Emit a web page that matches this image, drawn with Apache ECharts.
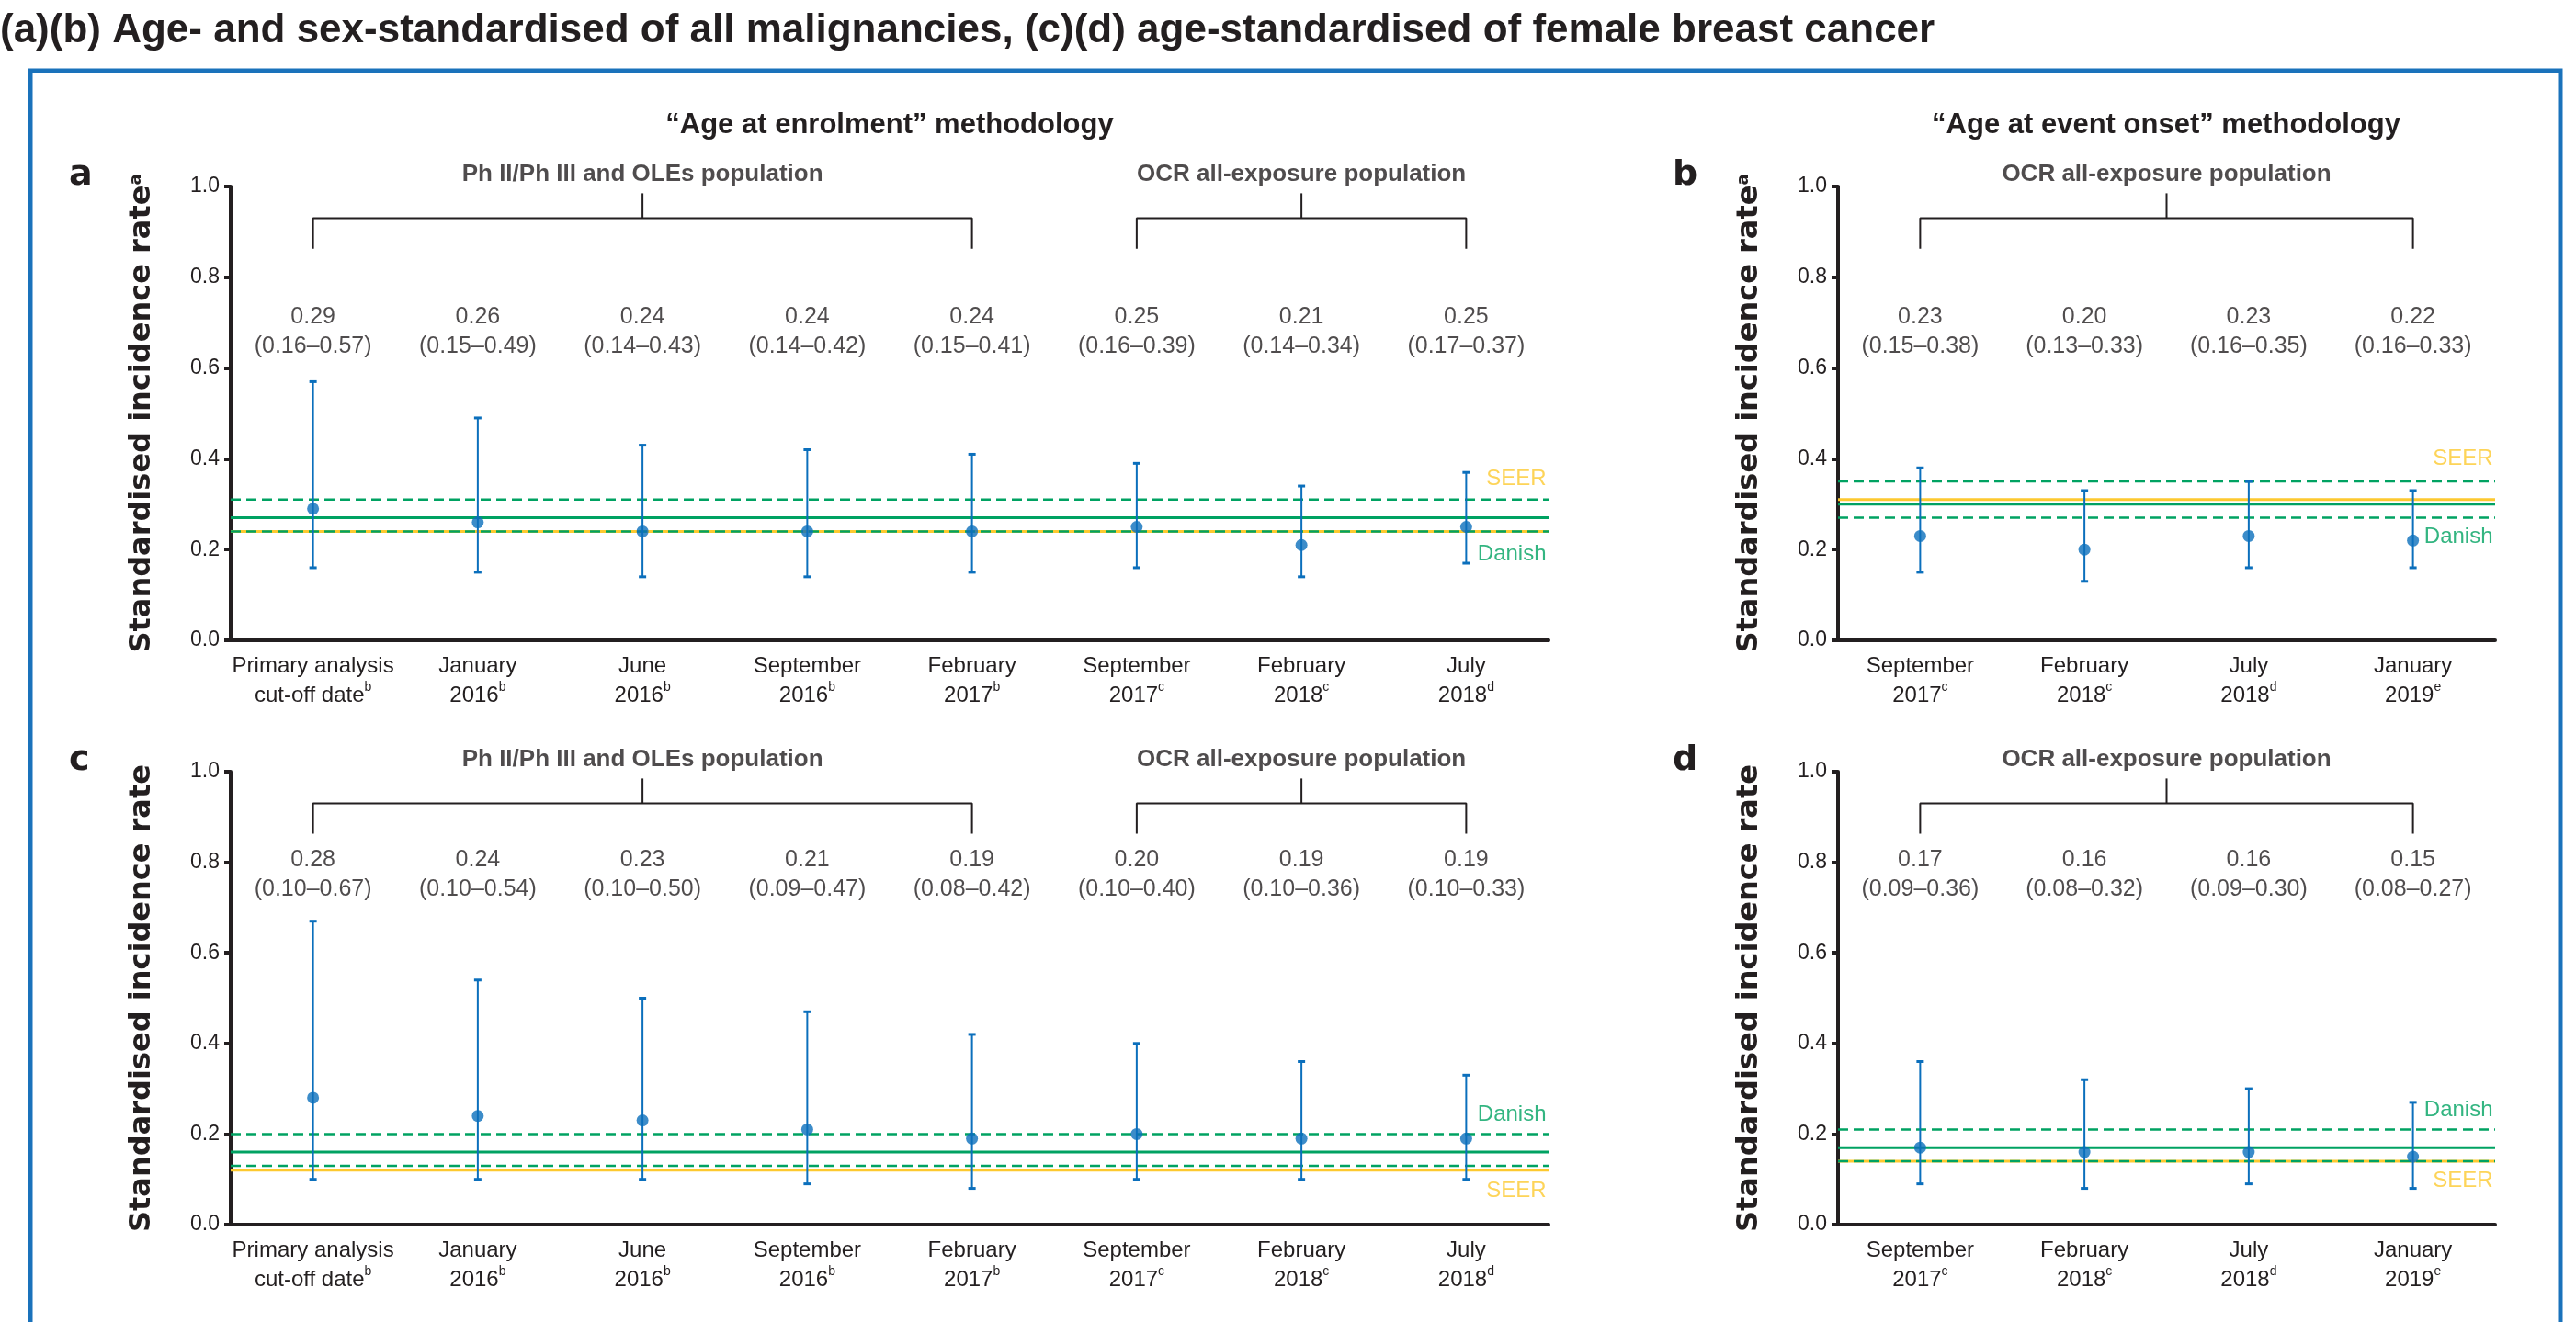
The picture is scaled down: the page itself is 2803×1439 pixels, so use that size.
<!DOCTYPE html>
<html>
<head>
<meta charset="utf-8">
<script src="https://cdn.jsdelivr.net/npm/echarts@6/dist/echarts.min.js"></script>
<style>
html, body { margin: 0; padding: 0; background: #fff; }
#chart { width: 2803px; height: 1439px; }
</style>
</head>
<body>
<div id="chart"></div>
<script>
// categories (cut-off dates) and their footnote letters
var enrolCats = ['Primary analysis\ncut-off date', 'January\n2016', 'June\n2016', 'September\n2016',
                 'February\n2017', 'September\n2017', 'February\n2018', 'July\n2018'];
var enrolNotes = ['b', 'b', 'b', 'b', 'b', 'c', 'c', 'd'];
var onsetCats = ['September\n2017', 'February\n2018', 'July\n2018', 'January\n2019'];
var onsetNotes = ['c', 'c', 'd', 'e'];

// (a) all malignancies, age at enrolment
var aEst  = [0.29, 0.26, 0.24, 0.24, 0.24, 0.25, 0.21, 0.25];
var aLow  = [0.16, 0.15, 0.14, 0.14, 0.15, 0.16, 0.14, 0.17];
var aHigh = [0.57, 0.49, 0.43, 0.42, 0.41, 0.39, 0.34, 0.37];
// (b) all malignancies, age at event onset
var bEst  = [0.23, 0.20, 0.23, 0.22];
var bLow  = [0.15, 0.13, 0.16, 0.16];
var bHigh = [0.38, 0.33, 0.35, 0.33];
// (c) female breast cancer, age at enrolment
var cEst  = [0.28, 0.24, 0.23, 0.21, 0.19, 0.20, 0.19, 0.19];
var cLow  = [0.10, 0.10, 0.10, 0.09, 0.08, 0.10, 0.10, 0.10];
var cHigh = [0.67, 0.54, 0.50, 0.47, 0.42, 0.40, 0.36, 0.33];
// (d) female breast cancer, age at event onset
var dEst  = [0.17, 0.16, 0.16, 0.15];
var dLow  = [0.09, 0.08, 0.09, 0.08];
var dHigh = [0.36, 0.32, 0.30, 0.27];

// reference rates: Danish [rate, lower, upper], SEER rate
var danishA = [0.27, 0.24, 0.31], seerA = 0.24;
var danishB = [0.30, 0.27, 0.35], seerB = 0.31;
var danishC = [0.16, 0.13, 0.20], seerC = 0.12;
var danishD = [0.17, 0.14, 0.21], seerD = 0.14;

// population brackets
var enrolGroups = [
    {name: 'Ph II/Ph III and OLEs population', from: 0, to: 4},
    {name: 'OCR all-exposure population', from: 5, to: 7}
];
var onsetGroups = [
    {name: 'OCR all-exposure population', from: 0, to: 3}
];

var yTicks = [0, 0.2, 0.4, 0.6, 0.8, 1.0];

var BLACK = '#231f20', BLUE = '#0b6fbc', GREEN = '#00a262', YELLOW = '#fdc92f', FRAME = '#1a72bb';
var SANS = '"Liberation Sans", Arial, sans-serif';
var HEAVY = '"DejaVu Sans", sans-serif';
var BRACKET = {legBottom: 0.863, bar: 0.93, stemTop: 0.985};

var panels = [
    {grid: {left: 251, top: 203, width: 1434, height: 494}, cats: enrolCats, notes: enrolNotes,
     est: aEst, low: aLow, high: aHigh, danish: danishA, seer: seerA, groups: enrolGroups,
     annotY: 0.68, seerLabelY: 0.355, danishLabelY: 0.19, sup: 'a'},
    {grid: {left: 2000, top: 203, width: 715, height: 494}, cats: onsetCats, notes: onsetNotes,
     est: bEst, low: bLow, high: bHigh, danish: danishB, seer: seerB, groups: onsetGroups,
     annotY: 0.68, seerLabelY: 0.40, danishLabelY: 0.227, sup: 'a'},
    {grid: {left: 251, top: 840, width: 1434, height: 493}, cats: enrolCats, notes: enrolNotes,
     est: cEst, low: cLow, high: cHigh, danish: danishC, seer: seerC, groups: enrolGroups,
     annotY: 0.772, seerLabelY: 0.075, danishLabelY: 0.243, sup: ''},
    {grid: {left: 2000, top: 840, width: 715, height: 493}, cats: onsetCats, notes: onsetNotes,
     est: dEst, low: dLow, high: dHigh, danish: danishD, seer: seerD, groups: onsetGroups,
     annotY: 0.772, seerLabelY: 0.096, danishLabelY: 0.253, sup: ''}
];

function errorBarItem(params, api) {
    var x = api.value(0);
    var top = api.coord([x, api.value(2)]);
    var bot = api.coord([x, api.value(1)]);
    var half = 4;
    return {
        type: 'group',
        children: [
            {type: 'line', shape: {x1: top[0], y1: top[1], x2: bot[0], y2: bot[1]}, style: {stroke: BLUE, lineWidth: 2}},
            {type: 'line', shape: {x1: top[0] - half, y1: top[1], x2: top[0] + half, y2: top[1]}, style: {stroke: BLUE, lineWidth: 3}},
            {type: 'line', shape: {x1: bot[0] - half, y1: bot[1], x2: bot[0] + half, y2: bot[1]}, style: {stroke: BLUE, lineWidth: 3}}
        ]
    };
}

function hline(xi, yi, n, v, color, width, type, z) {
    return {
        type: 'line', xAxisIndex: xi, yAxisIndex: yi, silent: true, symbol: 'none', z: z,
        data: [[-0.5, v], [n - 0.5, v]],
        lineStyle: {color: color, width: width, type: type},
        animation: false
    };
}

function textPoint(xi, yi, data, label) {
    return {
        type: 'scatter', xAxisIndex: xi, yAxisIndex: yi, silent: true, z: 10,
        symbolSize: 1, itemStyle: {color: 'rgba(0,0,0,0)'},
        data: data, label: label, animation: false
    };
}

var grids = [], xAxes = [], yAxes = [], series = [];

panels.forEach(function (p, k) {
    var n = p.cats.length;
    var cx = 2 * k, vx = 2 * k + 1;
    grids.push(p.grid);

    xAxes.push({
        type: 'category', gridIndex: k, data: p.cats, boundaryGap: true,
        axisLine: {onZero: false, lineStyle: {color: BLACK, width: 4}},
        axisTick: {length: 10, lineStyle: {color: BLACK, width: 3}},
        axisLabel: {
            interval: 0, margin: 12, color: BLACK, fontFamily: SANS, fontSize: 24, lineHeight: 32,
            formatter: (function (notes) {
                return function (value, idx) { return value + '{s|' + notes[idx] + '}'; };
            })(p.notes),
            rich: {s: {fontFamily: SANS, fontSize: 14, color: BLACK, verticalAlign: 'top', lineHeight: 22}}
        }
    });
    xAxes.push({type: 'value', gridIndex: k, min: -0.5, max: n - 0.5, show: false});

    yAxes.push({
        type: 'value', gridIndex: k, min: yTicks[0], max: yTicks[yTicks.length - 1], interval: 0.2,
        splitLine: {show: false},
        axisLine: {show: true, onZero: false, lineStyle: {color: BLACK, width: 4}},
        axisTick: {show: true, length: 7, lineStyle: {color: BLACK, width: 4}},
        axisLabel: {margin: 12, color: BLACK, fontFamily: SANS, fontSize: 23,
                    formatter: function (v) { return v.toFixed(1); }},
        name: 'Standardised incidence rate' + (p.sup ? '{s|' + p.sup + '}' : ''),
        nameLocation: 'middle', nameGap: 80,
        nameTextStyle: {
            color: BLACK, fontFamily: HEAVY, fontWeight: 'bold', fontSize: 32,
            rich: {s: {color: BLACK, fontFamily: HEAVY, fontWeight: 'bold', fontSize: 18, verticalAlign: 'top', lineHeight: 24}}
        }
    });

    // reference lines
    series.push(hline(vx, k, n, p.seer, YELLOW, 3, 'solid', 2));
    series.push(hline(vx, k, n, p.danish[0], GREEN, 3, 'solid', 3));
    series.push(hline(vx, k, n, p.danish[1], GREEN, 2.5, [11, 6], 4));
    series.push(hline(vx, k, n, p.danish[2], GREEN, 2.5, [11, 6], 4));

    // error bars and point estimates
    series.push({
        type: 'custom', xAxisIndex: vx, yAxisIndex: k, z: 6, silent: true,
        renderItem: errorBarItem, encode: {x: 0, y: [1, 2]},
        data: p.est.map(function (v, i) { return [i, p.low[i], p.high[i]]; }),
        animation: false
    });
    series.push({
        type: 'scatter', xAxisIndex: vx, yAxisIndex: k, z: 7, silent: true,
        symbol: 'circle', symbolSize: 13, itemStyle: {color: BLUE},
        data: p.est.map(function (v, i) { return [i, v]; }),
        animation: false
    });

    // value (95% CI) annotations
    series.push(textPoint(vx, k, p.est.map(function (v, i) { return [i, p.annotY]; }), {
        show: true, position: 'inside', color: BLACK, fontFamily: SANS, fontSize: 25, lineHeight: 32,
        formatter: function (prm) {
            var i = prm.dataIndex;
            return p.est[i].toFixed(2) + '\n(' + p.low[i].toFixed(2) + '\u2013' + p.high[i].toFixed(2) + ')';
        }
    }));

    // population brackets
    p.groups.forEach(function (g) {
        var mid = (g.from + g.to) / 2;
        series.push({
            type: 'line', xAxisIndex: vx, yAxisIndex: k, silent: true, symbol: 'none', z: 5,
            data: [[g.from, BRACKET.legBottom], [g.from, BRACKET.bar], [g.to, BRACKET.bar], [g.to, BRACKET.legBottom]],
            lineStyle: {color: BLACK, width: 2}, animation: false
        });
        series.push({
            type: 'line', xAxisIndex: vx, yAxisIndex: k, silent: true, symbol: 'none', z: 5,
            data: [[mid, BRACKET.bar], [mid, BRACKET.stemTop]],
            lineStyle: {color: BLACK, width: 2}, animation: false
        });
        series.push(textPoint(vx, k, [[mid, 1.0]], {
            show: true, position: 'top', distance: 0, color: BLACK,
            fontFamily: SANS, fontWeight: 'bold', fontSize: 26,
            formatter: g.name
        }));
    });

    // SEER / Danish labels
    series.push(textPoint(vx, k, [[n - 0.5, p.seerLabelY]], {
        show: true, position: 'left', distance: 2, color: YELLOW, fontFamily: SANS, fontSize: 24, formatter: 'SEER'
    }));
    series.push(textPoint(vx, k, [[n - 0.5, p.danishLabelY]], {
        show: true, position: 'left', distance: 2, color: GREEN, fontFamily: SANS, fontSize: 24, formatter: 'Danish'
    }));
});

var chart = echarts.init(document.getElementById('chart'));
chart.setOption({
    animation: false,
    backgroundColor: '#fff',
    grid: grids,
    xAxis: xAxes,
    yAxis: yAxes,
    series: series,
    graphic: [
        {type: 'rect', shape: {x: 33, y: 77, width: 2753, height: 1420}, style: {fill: 'none', stroke: FRAME, lineWidth: 5}},
        {type: 'text', x: 0, y: 34, style: {text: '(a)(b) Age- and sex-standardised of all malignancies, (c)(d) age-standardised of female breast cancer',
            fill: BLACK, fontFamily: SANS, fontWeight: 'bold', fontSize: 44, verticalAlign: 'middle'}},
        {type: 'text', x: 968, y: 136, style: {text: '\u201cAge at enrolment\u201d methodology', fill: BLACK,
            fontFamily: SANS, fontWeight: 'bold', fontSize: 31, align: 'center', verticalAlign: 'middle'}},
        {type: 'text', x: 2357, y: 136, style: {text: '\u201cAge at event onset\u201d methodology', fill: BLACK,
            fontFamily: SANS, fontWeight: 'bold', fontSize: 31, align: 'center', verticalAlign: 'middle'}},
        {type: 'text', x: 75, y: 191, style: {text: 'a', fill: BLACK, fontFamily: HEAVY, fontWeight: 'bold', fontSize: 38, verticalAlign: 'middle'}},
        {type: 'text', x: 1820, y: 191, style: {text: 'b', fill: BLACK, fontFamily: HEAVY, fontWeight: 'bold', fontSize: 38, verticalAlign: 'middle'}},
        {type: 'text', x: 75, y: 828, style: {text: 'c', fill: BLACK, fontFamily: HEAVY, fontWeight: 'bold', fontSize: 38, verticalAlign: 'middle'}},
        {type: 'text', x: 1820, y: 828, style: {text: 'd', fill: BLACK, fontFamily: HEAVY, fontWeight: 'bold', fontSize: 38, verticalAlign: 'middle'}}
    ]
});
</script>
</body>
</html>
